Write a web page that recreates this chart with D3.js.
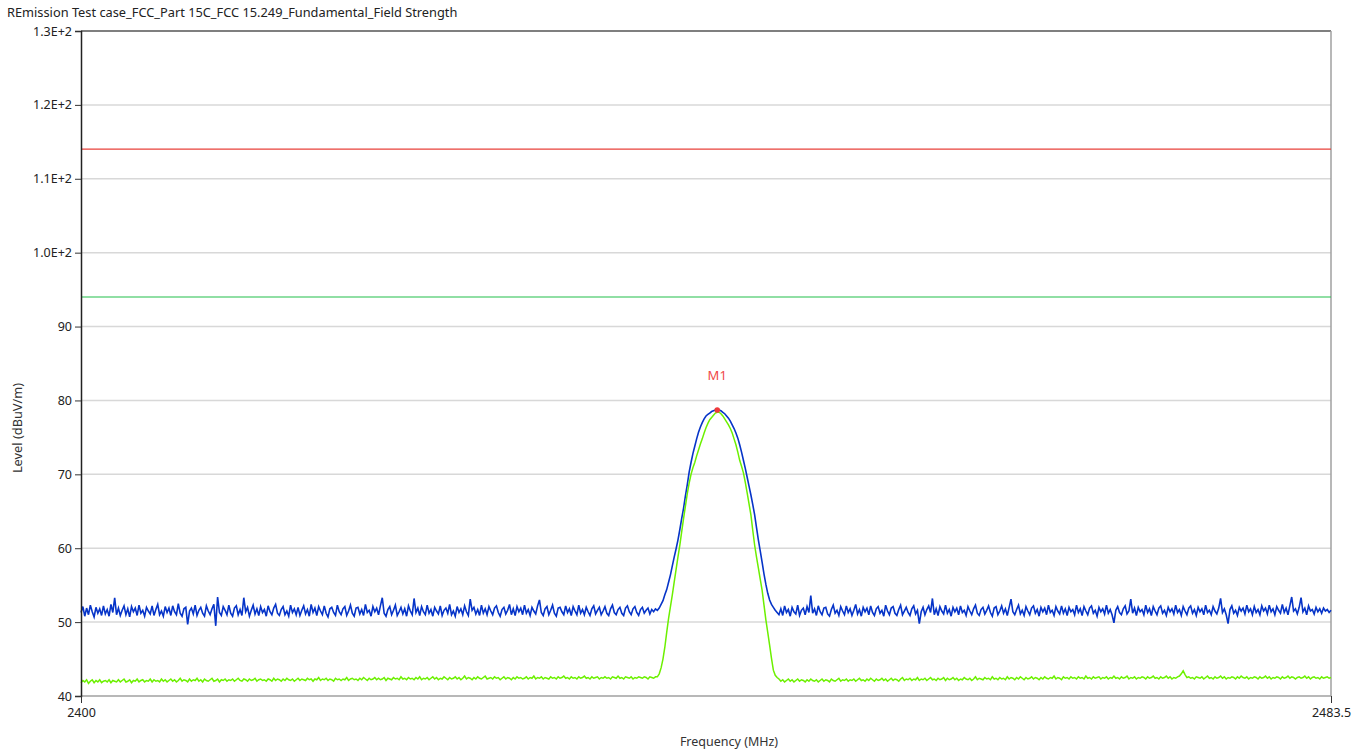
<!DOCTYPE html>
<html>
<head>
<meta charset="utf-8">
<script src="https://cdn.jsdelivr.net/npm/d3@7"></script>
<style>
  body { margin: 0; background: #fff; }
  svg text { font-family: "Noto Sans", "Open Sans", sans-serif; }
</style>
</head>
<body>
<svg id="chart" width="1367" height="755"></svg>
<script>
const titleText = "REmission Test case_FCC_Part 15C_FCC 15.249_Fundamental_Field Strength";
const yTicks = [40, 50, 60, 70, 80, 90, 100, 110, 120, 130];
const xTicks = [2400, 2483.5];
const freqStart = 2400, freqStep = 0.125;

// limit lines (dBuV/m)
const limits = [
  { level: 114, color: "#e8403a" },
  { level: 94, color: "#22c04a" }
];

// peak trace, 0.125 MHz per sweep point from 2400 MHz
const peakTrace = [
  // 2400 - 2438.375
  51.3, 52.1, 50.8, 51.9, 51.0, 52.3, 51.4, 50.7, 52.0, 51.2, 51.8, 50.9, 52.2, 51.1, 51.7, 50.8, 52.4, 51.3, 53.3, 51.0,
  51.9, 50.9, 51.6, 52.2, 51.0, 51.8, 50.7, 52.1, 51.4, 51.9, 50.9, 52.3, 51.2, 51.6, 50.8, 52.0, 51.5, 51.1, 52.2, 50.9,
  51.7, 52.4, 51.0, 51.5, 50.8, 52.1, 51.3, 51.9, 50.9, 52.2, 51.4, 51.0, 52.5, 51.2, 50.8, 51.8, 52.0, 49.7, 51.5, 51.9,
  51.1, 52.3, 50.9, 51.6, 52.0, 51.2, 50.8, 52.2, 51.5, 51.0, 51.8, 52.4, 49.5, 53.4, 51.3, 50.9, 52.1, 51.6, 51.0, 52.3,
  51.2, 50.8, 51.9, 52.2, 51.0, 51.7, 50.9, 53.3, 51.4, 52.0, 50.8, 51.6, 52.3, 51.1, 51.8, 50.9, 52.1, 51.3, 51.7, 50.8,
  52.2, 51.4, 51.0, 51.9, 52.4, 51.2, 50.9, 51.7, 52.1, 51.0, 51.5, 50.8, 52.3, 51.3, 51.8, 51.0, 52.0, 50.9, 51.6, 52.2,
  51.1, 51.7, 50.8, 52.4, 51.3, 51.9, 50.9, 52.1, 51.5, 51.0, 52.2, 51.2, 50.7, 51.8, 52.0, 51.3, 50.9, 52.3, 51.4, 51.0,
  51.8, 52.1, 50.9, 51.5, 52.3, 51.2, 50.8, 51.9, 52.0, 51.1, 51.7, 50.9, 52.4, 51.3, 51.6, 50.8, 52.1, 51.4, 51.9, 51.0,
  52.2, 53.3, 51.2, 50.8, 51.7, 52.1, 51.0, 51.6, 52.3, 50.9, 51.4, 52.0, 51.1, 51.8, 50.8, 52.2, 51.5, 51.0, 53.2, 51.3,
  51.9, 50.9, 52.1, 51.4, 51.0, 52.3, 51.2, 51.7, 50.8, 52.0, 51.5, 51.1, 52.2, 50.9, 51.6, 51.9, 51.2, 52.4, 51.0, 51.5,
  50.8, 52.1, 51.3, 51.8, 51.0, 52.2, 51.4, 50.9, 53.1, 51.6, 52.0, 51.1, 51.7, 50.9, 52.3, 51.2, 51.8, 51.0, 52.1, 51.5,
  51.0, 51.9, 52.2, 51.3, 50.8, 51.7, 52.0, 51.1, 51.6, 52.4, 51.0, 51.8, 50.9, 52.1, 51.4, 51.9, 51.0, 52.3, 51.2, 51.7,
  50.9, 52.0, 51.5, 51.1, 52.2, 53.0, 51.3, 50.9, 51.8, 52.1, 51.0, 51.6, 52.3, 51.2, 50.8, 51.9, 52.0, 51.4, 51.0, 52.2,
  51.3, 51.8, 50.9, 52.1, 51.5, 51.0, 52.3, 51.2, 51.7, 51.0, 52.0, 51.4, 50.9, 51.8, 52.2, 51.1, 51.6, 52.0, 51.0, 51.5,
  52.1, 51.2, 50.9, 51.8, 52.3, 51.3, 51.0, 51.7, 52.0, 51.2, 50.9, 51.9, 52.2, 51.4, 51.0, 51.8, 52.1, 51.3, 50.9, 51.7,
  52.0, 51.2, 51.6, 51.9, 51.1, 51.7, 51.4, 51.8,
  // 2438.5 - 2446.5
  51.6, 51.9, 52.4, 52.9, 53.7, 54.4, 55.4, 56.4, 57.6, 58.8, 59.9, 61.1, 62.5, 64.0, 65.4, 67.1, 68.6, 70.3, 71.6, 72.8,
  73.8, 74.8, 75.7, 76.4, 77.0, 77.5, 77.9, 78.1, 78.3, 78.5, 78.6, 78.7, 78.7, 78.7, 78.6, 78.4, 78.2, 77.9, 77.6, 77.2,
  76.7, 76.2, 75.6, 74.9, 74.0, 73.0, 71.9, 70.8, 69.6, 68.4, 67.2, 65.9, 64.5, 62.8, 61.1, 59.6, 58.1, 56.5, 55.1, 53.9,
  53.0, 52.4, 52.0, 51.6, 51.3,
  // 2446.625 - 2483.5
  51.0, 51.8, 50.9, 52.2, 51.3, 51.7, 50.8, 52.0, 51.4, 51.1, 52.3, 50.9, 51.6, 51.9, 51.0, 52.1, 51.3, 53.6, 51.2, 51.8,
  50.9, 52.2, 51.4, 51.0, 51.9, 52.0, 51.1, 50.8, 51.7, 52.3, 51.2, 51.6, 50.9, 52.1, 51.5, 51.0, 52.2, 51.3, 51.8, 50.9,
  51.6, 52.4, 51.1, 51.7, 50.8, 52.0, 51.4, 51.9, 51.0, 52.2, 51.3, 50.9, 51.8, 52.1, 51.2, 51.6, 50.8, 52.3, 51.5, 51.0,
  51.9, 52.1, 51.2, 50.9, 51.7, 52.3, 51.0, 51.5, 52.0, 51.3, 50.9, 51.8, 52.2, 51.1, 51.6, 49.8, 51.4, 52.0, 51.0, 51.7,
  52.2, 51.3, 53.2, 51.0, 51.8, 50.9, 52.1, 51.5, 51.1, 52.3, 51.2, 51.7, 50.8, 52.0, 51.4, 51.9, 51.0, 52.2, 51.3, 51.6,
  50.9, 52.1, 51.5, 51.0, 51.8, 52.3, 51.2, 50.9, 51.7, 52.0, 51.1, 51.6, 52.2, 51.3, 50.8, 51.9, 52.1, 51.0, 51.5, 52.2,
  51.2, 51.8, 50.9, 52.0, 53.1, 51.4, 51.0, 51.7, 52.3, 51.1, 51.6, 50.9, 52.1, 51.5, 51.0, 51.9, 52.2, 51.2, 51.7, 50.8,
  52.0, 51.4, 51.9, 51.0, 52.3, 51.3, 51.6, 50.9, 52.1, 51.5, 51.1, 52.2, 51.2, 51.8, 50.9, 52.0, 51.4, 51.7, 51.0, 52.3,
  51.3, 51.8, 50.9, 52.1, 51.5, 51.0, 51.9, 52.2, 51.2, 51.6, 50.8, 52.0, 51.4, 51.8, 51.1, 52.3, 51.2, 51.7, 51.0, 49.9,
  51.6, 52.1, 51.3, 51.0, 51.8, 52.2, 51.1, 51.5, 53.1, 51.2, 51.9, 50.9, 52.0, 51.4, 51.7, 51.0, 52.3, 51.3, 51.8, 50.9,
  52.1, 51.5, 51.0, 51.9, 52.2, 51.2, 51.6, 50.9, 52.0, 51.4, 51.8, 51.1, 52.3, 51.3, 51.7, 50.9, 52.1, 51.5, 51.0, 51.9,
  52.2, 51.2, 51.7, 50.9, 52.0, 51.4, 51.8, 51.0, 52.3, 51.3, 51.6, 51.0, 52.1, 51.5, 51.1, 51.9, 53.2, 51.3, 51.8, 51.0,
  49.8, 51.7, 52.2, 51.2, 51.6, 50.9, 52.0, 51.5, 51.9, 51.1, 52.3, 51.4, 51.8, 51.0, 52.1, 51.3, 51.7, 51.0, 52.2, 51.5,
  51.9, 51.1, 52.3, 51.4, 51.8, 51.0, 52.1, 51.6, 51.2, 52.4, 51.3, 51.9, 51.0, 52.2, 53.4, 51.5, 51.8, 51.1, 52.0, 53.3,
  51.4, 51.9, 51.0, 52.2, 51.5, 51.7, 51.1, 52.0, 51.4, 51.8, 51.2, 51.9, 51.5, 51.7, 51.3, 51.6
];

// average trace, same sweep points
const avgTrace = [
  // 2400 - 2438.375
  41.8, 42.1, 41.9, 42.2, 41.7, 42.0, 42.2, 41.8, 42.1, 41.9, 42.2, 41.8, 42.0, 42.1, 41.9, 42.2, 41.8, 42.1, 42.0, 41.9,
  42.2, 41.9, 42.1, 42.3, 41.9, 42.0, 42.2, 41.8, 42.1, 42.0, 42.3, 41.9, 42.1, 42.2, 41.9, 42.1, 42.0, 42.3, 41.9, 42.2,
  42.0, 42.1, 41.9, 42.3, 42.0, 42.2, 41.9, 42.1, 42.3, 42.0, 42.2, 41.9, 42.1, 42.4, 42.0, 42.2, 42.1, 41.9, 42.3, 42.0,
  42.2, 42.1, 42.4, 42.0, 42.2, 41.9, 42.3, 42.1, 42.0, 42.2, 42.4, 42.0, 42.1, 42.3, 41.9, 42.2, 42.1, 42.3, 42.0, 42.2,
  42.1, 42.3, 42.0, 42.2, 42.4, 42.1, 42.0, 42.3, 42.2, 42.0, 42.3, 42.1, 42.2, 42.4, 42.0, 42.2, 42.3, 42.1, 42.2, 42.0,
  42.3, 42.2, 42.0, 42.4, 42.1, 42.3, 42.2, 42.0, 42.3, 42.1, 42.4, 42.2, 42.1, 42.3, 42.0, 42.2, 42.4, 42.1, 42.3, 42.2,
  42.1, 42.4, 42.2, 42.3, 42.0, 42.3, 42.2, 42.5, 42.1, 42.3, 42.2, 42.4, 42.1, 42.3, 42.2, 42.0, 42.4, 42.2, 42.3, 42.1,
  42.3, 42.2, 42.5, 42.1, 42.3, 42.4, 42.2, 42.3, 42.1, 42.4, 42.2, 42.5, 42.3, 42.1, 42.4, 42.2, 42.3, 42.5, 42.2, 42.4,
  42.2, 42.3, 42.5, 42.1, 42.4, 42.3, 42.2, 42.5, 42.3, 42.4, 42.2, 42.6, 42.3, 42.4, 42.2, 42.5, 42.3, 42.4, 42.2, 42.5,
  42.3, 42.6, 42.2, 42.4, 42.3, 42.5, 42.2, 42.4, 42.6, 42.3, 42.5, 42.2, 42.4, 42.3, 42.6, 42.4, 42.2, 42.5, 42.3, 42.4,
  42.6, 42.3, 42.5, 42.2, 42.4, 42.7, 42.3, 42.5, 42.4, 42.2, 42.5, 42.3, 42.6, 42.4, 42.3, 42.5, 42.7, 42.3, 42.4, 42.5,
  42.3, 42.6, 42.4, 42.5, 42.2, 42.4, 42.6, 42.3, 42.5, 42.4, 42.2, 42.5, 42.3, 42.6, 42.4, 42.5, 42.3, 42.4, 42.6, 42.3,
  42.5, 42.4, 42.7, 42.3, 42.5, 42.4, 42.6, 42.3, 42.5, 42.4, 42.3, 42.6, 42.4, 42.5, 42.3, 42.6, 42.4, 42.5, 42.7, 42.4,
  42.5, 42.3, 42.6, 42.4, 42.5, 42.3, 42.6, 42.4, 42.5, 42.7, 42.4, 42.5, 42.3, 42.6, 42.4, 42.5, 42.6, 42.3, 42.5, 42.4,
  42.6, 42.4, 42.5, 42.3, 42.6, 42.5, 42.4, 42.7, 42.4, 42.5, 42.3, 42.6, 42.5, 42.4, 42.6, 42.3, 42.5, 42.4, 42.6, 42.5,
  42.4, 42.6, 42.5, 42.3, 42.6, 42.5, 42.4, 42.6,
  // 2438.5 - 2446.5
  42.6, 43.0, 43.8, 45.0, 46.6, 48.6, 50.5, 52.1, 53.7, 55.4, 57.1, 58.8, 60.4, 62.2, 64.0, 65.7, 67.4, 68.8, 70.0, 70.9,
  71.6, 72.5, 73.3, 74.1, 74.8, 75.6, 76.3, 76.9, 77.4, 77.7, 78.0, 78.3, 78.4, 78.4, 78.2, 77.9, 77.5, 77.1, 76.7, 76.2,
  75.6, 74.8, 74.0, 73.0, 71.9, 71.1, 70.2, 68.9, 67.5, 66.0, 64.5, 62.4, 60.4, 58.8, 57.3, 55.8, 54.3, 52.3, 50.3, 48.6,
  46.9, 45.1, 43.5, 42.8, 42.5,
  // 2446.625 - 2483.5
  42.3, 42.0, 42.2, 41.9, 42.1, 42.3, 42.0, 42.2, 41.9, 42.1, 42.3, 42.0, 42.2, 42.1, 41.9, 42.2, 42.0, 42.3, 42.1, 42.0,
  42.2, 41.9, 42.1, 42.3, 42.0, 42.2, 42.1, 41.9, 42.3, 42.1, 42.0, 42.2, 42.4, 42.0, 42.2, 42.1, 42.3, 42.0, 42.2, 42.1,
  42.3, 42.0, 42.2, 42.4, 42.1, 42.2, 42.0, 42.3, 42.1, 42.4, 42.2, 42.0, 42.3, 42.1, 42.2, 42.4, 42.1, 42.3, 42.0, 42.2,
  42.4, 42.1, 42.3, 42.2, 42.0, 42.3, 42.5, 42.1, 42.3, 42.2, 42.4, 42.1, 42.3, 42.2, 42.5, 42.1, 42.3, 42.2, 42.4, 42.1,
  42.3, 42.5, 42.2, 42.3, 42.1, 42.4, 42.2, 42.3, 42.5, 42.1, 42.4, 42.2, 42.3, 42.5, 42.2, 42.4, 42.1, 42.3, 42.2, 42.5,
  42.3, 42.2, 42.4, 42.1, 42.3, 42.6, 42.2, 42.4, 42.3, 42.2, 42.5, 42.3, 42.4, 42.2, 42.6, 42.3, 42.4, 42.2, 42.5, 42.3,
  42.4, 42.2, 42.6, 42.3, 42.5, 42.4, 42.2, 42.5, 42.3, 42.6, 42.4, 42.2, 42.5, 42.3, 42.4, 42.6, 42.3, 42.5, 42.4, 42.2,
  42.5, 42.3, 42.6, 42.4, 42.3, 42.5, 42.4, 42.7, 42.3, 42.5, 42.4, 42.2, 42.6, 42.4, 42.5, 42.3, 42.6, 42.4, 42.5, 42.3,
  42.6, 42.4, 42.5, 42.3, 42.7, 42.4, 42.5, 42.3, 42.6, 42.4, 42.5, 42.6, 42.3, 42.5, 42.4, 42.6, 42.3, 42.5, 42.4, 42.7,
  42.4, 42.5, 42.3, 42.6, 42.4, 42.5, 42.7, 42.3, 42.5, 42.4, 42.6, 42.3, 42.5, 42.4, 42.6, 42.5, 42.3, 42.6, 42.4, 42.5,
  42.7, 42.4, 42.5, 42.3, 42.6, 42.4, 42.5, 42.7, 42.4, 42.6, 42.3, 42.5, 42.4, 42.6, 42.7, 43.0, 43.4, 42.9, 42.5, 42.6,
  42.4, 42.5, 42.3, 42.6, 42.5, 42.4, 42.6, 42.3, 42.5, 42.7, 42.4, 42.5, 42.3, 42.6, 42.4, 42.5, 42.7, 42.4, 42.6, 42.3,
  42.5, 42.4, 42.6, 42.5, 42.3, 42.6, 42.4, 42.7, 42.5, 42.4, 42.6, 42.3, 42.5, 42.4, 42.6, 42.5, 42.3, 42.6, 42.4, 42.5,
  42.7, 42.4, 42.6, 42.3, 42.5, 42.4, 42.6, 42.5, 42.3, 42.6, 42.4, 42.5, 42.7, 42.4, 42.6, 42.5, 42.3, 42.5, 42.6, 42.4,
  42.5, 42.7, 42.4, 42.6, 42.3, 42.5, 42.6, 42.4, 42.5, 42.3, 42.6, 42.4, 42.5, 42.6, 42.4, 42.5
];

// marker
const markers = [{ name: "M1", freq: 2442.5, level: 78.7 }];

const margin = { top: 31, right: 36, bottom: 59, left: 81 };
const width = 1367 - margin.left - margin.right;
const height = 755 - margin.top - margin.bottom;

const svg = d3.select("#chart");

svg.append("text")
  .attr("x", 7).attr("y", 17)
  .attr("font-size", 12.8)
  .attr("fill", "#222")
  .text(titleText);

const g = svg.append("g").attr("transform", `translate(${margin.left},${margin.top})`);

const x = d3.scaleLinear().domain([2400, 2483.5]).range([0, width]);
const y = d3.scaleLinear().domain([40, 130]).range([height, 0]);

const fmt = d => d >= 100 ? (d / 100).toFixed(1) + "E+2" : d;

// grid
g.append("g")
  .selectAll("line")
  .data(yTicks.slice(1, -1))
  .join("line")
  .attr("x1", 0).attr("x2", width)
  .attr("y1", d => y(d)).attr("y2", d => y(d))
  .attr("stroke", "#d8d8d8")
  .attr("stroke-width", 1.5);

// frame
g.append("line").attr("x1", 0).attr("x2", width).attr("y1", 0).attr("y2", 0)
  .attr("stroke", "#555").attr("stroke-width", 1.5);
g.append("line").attr("x1", width).attr("x2", width).attr("y1", 0).attr("y2", height)
  .attr("stroke", "#a0a0a0").attr("stroke-width", 1.5);
g.append("line").attr("x1", 0).attr("x2", width).attr("y1", height).attr("y2", height)
  .attr("stroke", "#a0a0a0").attr("stroke-width", 1.5);

// limit lines
g.append("g")
  .selectAll("line")
  .data(limits)
  .join("line")
  .attr("x1", 0).attr("x2", width)
  .attr("y1", d => y(d.level)).attr("y2", d => y(d.level))
  .attr("stroke", d => d.color)
  .attr("stroke-width", 1.2);

const line = d3.line()
  .x((d, i) => x(freqStart + i * freqStep))
  .y(d => y(d));

g.append("path")
  .datum(peakTrace)
  .attr("fill", "none")
  .attr("stroke", "#0634c8")
  .attr("stroke-width", 1.6)
  .attr("d", line);

g.append("path")
  .datum(avgTrace)
  .attr("fill", "none")
  .attr("stroke", "#6cf000")
  .attr("stroke-width", 1.5)
  .attr("d", line);

// axes
const yAxis = g.append("g")
  .call(d3.axisLeft(y).tickValues(yTicks).tickFormat(fmt).tickSize(6).tickPadding(3));
yAxis.select(".domain").attr("stroke", "#222").attr("stroke-width", 1.5);
yAxis.selectAll(".tick line").attr("stroke", "#333");
yAxis.selectAll("text").attr("font-size", 12.5).attr("fill", "#222")
  .attr("font-family", "'Noto Sans', sans-serif");

const xAxis = g.append("g")
  .attr("transform", `translate(0,${height})`)
  .call(d3.axisBottom(x).tickValues(xTicks).tickFormat(d => d).tickSize(7).tickPadding(5));
xAxis.select(".domain").remove();
xAxis.selectAll(".tick line").attr("stroke", "#333");
xAxis.selectAll("text").attr("font-size", 12.5).attr("fill", "#222")
  .attr("font-family", "'Noto Sans', sans-serif");

// markers
const mk = g.append("g").selectAll("g").data(markers).join("g");
mk.append("circle")
  .attr("cx", d => x(d.freq)).attr("cy", d => y(d.level))
  .attr("r", 2.8).attr("fill", "#f03a3a");
mk.append("text")
  .attr("x", d => x(d.freq)).attr("y", d => y(d.level) - 30)
  .attr("text-anchor", "middle")
  .attr("font-size", 13)
  .attr("fill", "#f04848")
  .text(d => d.name);

// axis titles
svg.append("text")
  .attr("transform", "translate(22,428) rotate(-90)")
  .attr("text-anchor", "middle")
  .attr("font-size", 12.8)
  .attr("fill", "#333")
  .text("Level (dBuV/m)");

svg.append("text")
  .attr("x", 729).attr("y", 746)
  .attr("text-anchor", "middle")
  .attr("font-size", 12.5)
  .attr("fill", "#333")
  .text("Frequency (MHz)");
</script>
</body>
</html>
